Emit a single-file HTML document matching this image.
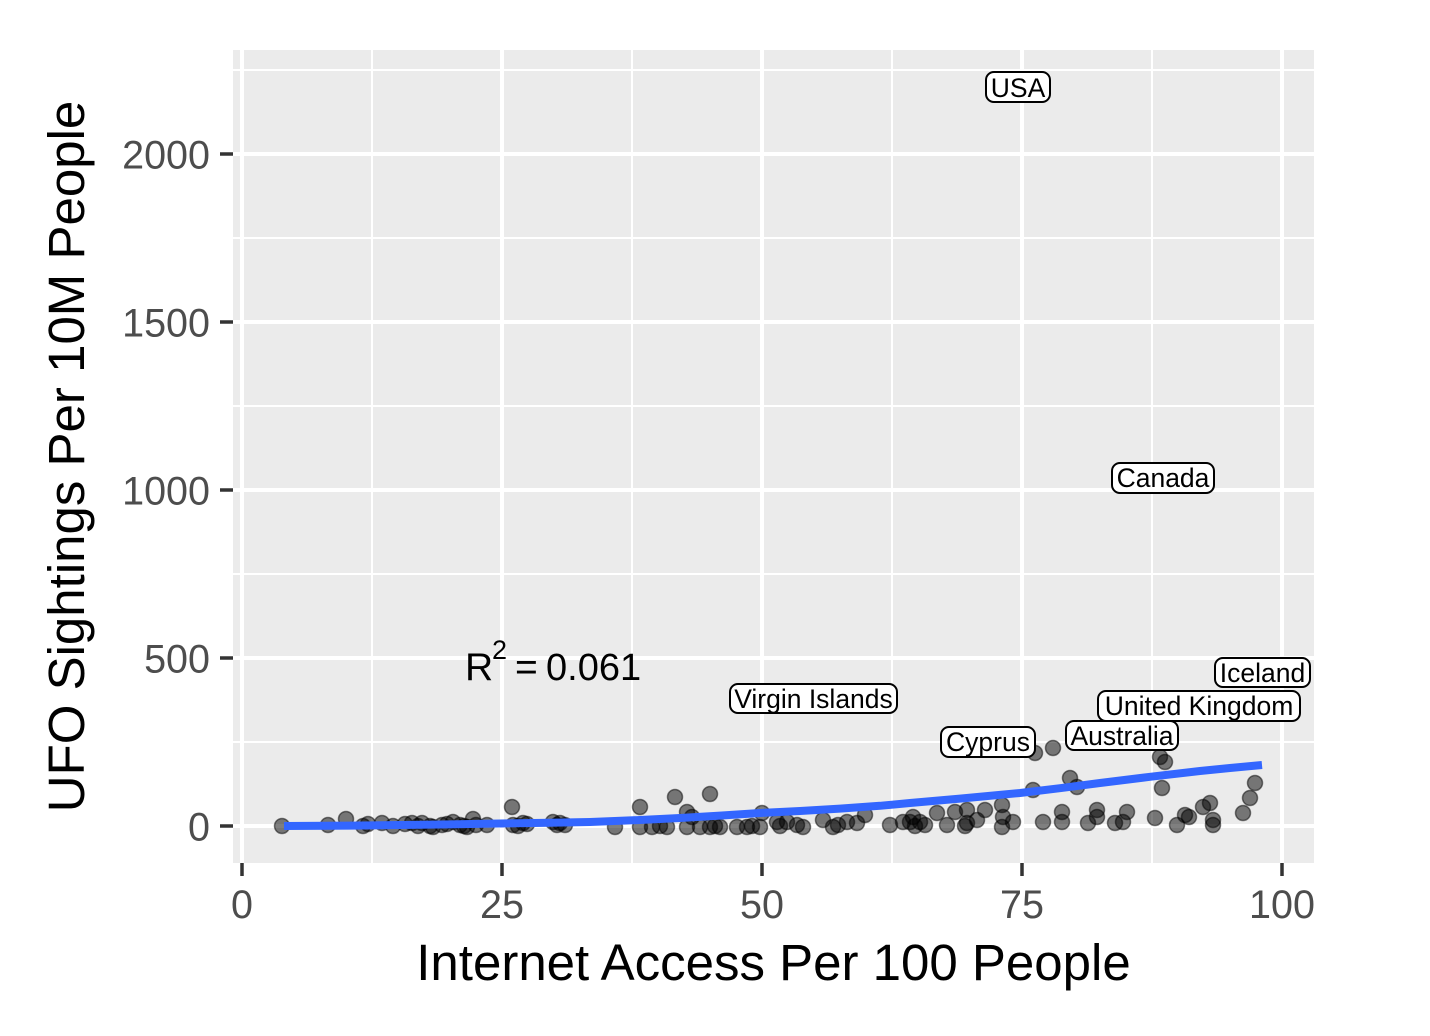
<!DOCTYPE html>
<html>
<head>
<meta charset="utf-8">
<style>
  html, body { margin: 0; padding: 0; background: #ffffff; }
  svg { display: block; }
  text { font-family: "Liberation Sans", Arial, sans-serif; }
</style>
</head>
<body>
<svg width="1430" height="1036" viewBox="0 0 1430 1036" xmlns="http://www.w3.org/2000/svg">
  <rect x="0" y="0" width="1430" height="1036" fill="#ffffff"/>
  <rect x="233" y="50" width="1081" height="813" fill="#EBEBEB"/>
  <g stroke="#ffffff" stroke-width="2" fill="none">
    <line x1="372" y1="50" x2="372" y2="863"/>
    <line x1="632" y1="50" x2="632" y2="863"/>
    <line x1="892" y1="50" x2="892" y2="863"/>
    <line x1="1152" y1="50" x2="1152" y2="863"/>
    <line x1="233" y1="742" x2="1314" y2="742"/>
    <line x1="233" y1="574" x2="1314" y2="574"/>
    <line x1="233" y1="406" x2="1314" y2="406"/>
    <line x1="233" y1="238" x2="1314" y2="238"/>
    <line x1="233" y1="70" x2="1314" y2="70"/>
  </g>
  <g stroke="#ffffff" stroke-width="4" fill="none">
    <line x1="242" y1="50" x2="242" y2="863"/>
    <line x1="502" y1="50" x2="502" y2="863"/>
    <line x1="762" y1="50" x2="762" y2="863"/>
    <line x1="1022" y1="50" x2="1022" y2="863"/>
    <line x1="1282" y1="50" x2="1282" y2="863"/>
    <line x1="233" y1="826" x2="1314" y2="826"/>
    <line x1="233" y1="658" x2="1314" y2="658"/>
    <line x1="233" y1="490" x2="1314" y2="490"/>
    <line x1="233" y1="322" x2="1314" y2="322"/>
    <line x1="233" y1="154" x2="1314" y2="154"/>
  </g>
  <g fill="#000000" fill-opacity="0.5" stroke="#000000" stroke-opacity="0.5" stroke-width="1.5">
    <circle cx="282" cy="826" r="7.5"/>
    <circle cx="328" cy="825" r="7.5"/>
    <circle cx="346" cy="819" r="7.5"/>
    <circle cx="363" cy="826" r="7.5"/>
    <circle cx="368" cy="824" r="7.5"/>
    <circle cx="382" cy="823" r="7.5"/>
    <circle cx="393" cy="826" r="7.5"/>
    <circle cx="405" cy="824" r="7.5"/>
    <circle cx="412" cy="823" r="7.5"/>
    <circle cx="418" cy="826" r="7.5"/>
    <circle cx="422" cy="823" r="7.5"/>
    <circle cx="430" cy="826" r="7.5"/>
    <circle cx="433" cy="827" r="7.5"/>
    <circle cx="442" cy="825" r="7.5"/>
    <circle cx="447" cy="824" r="7.5"/>
    <circle cx="453" cy="822" r="7.5"/>
    <circle cx="460" cy="825" r="7.5"/>
    <circle cx="464" cy="826" r="7.5"/>
    <circle cx="467" cy="827" r="7.5"/>
    <circle cx="473" cy="819" r="7.5"/>
    <circle cx="476" cy="825" r="7.5"/>
    <circle cx="487" cy="825" r="7.5"/>
    <circle cx="512" cy="807" r="7.5"/>
    <circle cx="513" cy="825" r="7.5"/>
    <circle cx="518" cy="826" r="7.5"/>
    <circle cx="523" cy="823" r="7.5"/>
    <circle cx="527" cy="824" r="7.5"/>
    <circle cx="553" cy="822" r="7.5"/>
    <circle cx="557" cy="825" r="7.5"/>
    <circle cx="560" cy="823" r="7.5"/>
    <circle cx="565" cy="825" r="7.5"/>
    <circle cx="615" cy="827" r="7.5"/>
    <circle cx="640" cy="807" r="7.5"/>
    <circle cx="640" cy="827" r="7.5"/>
    <circle cx="652" cy="827" r="7.5"/>
    <circle cx="660" cy="826" r="7.5"/>
    <circle cx="667" cy="827" r="7.5"/>
    <circle cx="675" cy="797" r="7.5"/>
    <circle cx="687" cy="812" r="7.5"/>
    <circle cx="692" cy="817" r="7.5"/>
    <circle cx="687" cy="827" r="7.5"/>
    <circle cx="700" cy="827" r="7.5"/>
    <circle cx="710" cy="794" r="7.5"/>
    <circle cx="710" cy="827" r="7.5"/>
    <circle cx="715" cy="826" r="7.5"/>
    <circle cx="720" cy="827" r="7.5"/>
    <circle cx="737" cy="827" r="7.5"/>
    <circle cx="747" cy="827" r="7.5"/>
    <circle cx="752" cy="826" r="7.5"/>
    <circle cx="762" cy="813" r="7.5"/>
    <circle cx="760" cy="827" r="7.5"/>
    <circle cx="777" cy="822" r="7.5"/>
    <circle cx="780" cy="826" r="7.5"/>
    <circle cx="787" cy="822" r="7.5"/>
    <circle cx="797" cy="825" r="7.5"/>
    <circle cx="803" cy="827" r="7.5"/>
    <circle cx="823" cy="820" r="7.5"/>
    <circle cx="833" cy="827" r="7.5"/>
    <circle cx="838" cy="825" r="7.5"/>
    <circle cx="847" cy="822" r="7.5"/>
    <circle cx="857" cy="823" r="7.5"/>
    <circle cx="865" cy="815" r="7.5"/>
    <circle cx="890" cy="825" r="7.5"/>
    <circle cx="903" cy="822" r="7.5"/>
    <circle cx="910" cy="822" r="7.5"/>
    <circle cx="913" cy="817" r="7.5"/>
    <circle cx="915" cy="826" r="7.5"/>
    <circle cx="920" cy="822" r="7.5"/>
    <circle cx="925" cy="825" r="7.5"/>
    <circle cx="937" cy="813" r="7.5"/>
    <circle cx="947" cy="825" r="7.5"/>
    <circle cx="955" cy="812" r="7.5"/>
    <circle cx="965" cy="826" r="7.5"/>
    <circle cx="967" cy="810" r="7.5"/>
    <circle cx="967" cy="823" r="7.5"/>
    <circle cx="977" cy="820" r="7.5"/>
    <circle cx="985" cy="810" r="7.5"/>
    <circle cx="1002" cy="805" r="7.5"/>
    <circle cx="1003" cy="817" r="7.5"/>
    <circle cx="1002" cy="827" r="7.5"/>
    <circle cx="1013" cy="822" r="7.5"/>
    <circle cx="1035" cy="753" r="7.5"/>
    <circle cx="1053" cy="748" r="7.5"/>
    <circle cx="1033" cy="790" r="7.5"/>
    <circle cx="1043" cy="822" r="7.5"/>
    <circle cx="1062" cy="812" r="7.5"/>
    <circle cx="1062" cy="822" r="7.5"/>
    <circle cx="1070" cy="778" r="7.5"/>
    <circle cx="1077" cy="787" r="7.5"/>
    <circle cx="1088" cy="823" r="7.5"/>
    <circle cx="1097" cy="810" r="7.5"/>
    <circle cx="1097" cy="817" r="7.5"/>
    <circle cx="1115" cy="823" r="7.5"/>
    <circle cx="1127" cy="812" r="7.5"/>
    <circle cx="1123" cy="822" r="7.5"/>
    <circle cx="1155" cy="818" r="7.5"/>
    <circle cx="1160" cy="757" r="7.5"/>
    <circle cx="1165" cy="762" r="7.5"/>
    <circle cx="1162" cy="788" r="7.5"/>
    <circle cx="1177" cy="825" r="7.5"/>
    <circle cx="1185" cy="815" r="7.5"/>
    <circle cx="1189" cy="817" r="7.5"/>
    <circle cx="1203" cy="807" r="7.5"/>
    <circle cx="1210" cy="803" r="7.5"/>
    <circle cx="1213" cy="820" r="7.5"/>
    <circle cx="1213" cy="825" r="7.5"/>
    <circle cx="1243" cy="813" r="7.5"/>
    <circle cx="1250" cy="798" r="7.5"/>
    <circle cx="1255" cy="783" r="7.5"/>
  </g>
  <polyline fill="none" stroke="#3366FF" stroke-width="8" stroke-linejoin="round" stroke-linecap="butt"
    points="284,826 350,825.6 400,825 450,824.4 500,823.5 550,822.8 590,822 640,820 680,818 720,815.6 760,813 800,811 840,808.6 880,805.8 910,803 960,798.6 1020,793 1060,788.2 1100,783 1150,776.8 1200,771 1230,768 1262,765"/>
  <g font-size="26.5" fill="#000000" text-anchor="middle">
    <rect x="986" y="72" width="64" height="30" rx="8" ry="8" fill="#ffffff" stroke="#000000" stroke-width="2"/>
    <text x="1018" y="97">USA</text>
    <rect x="1112" y="463" width="102" height="30" rx="8" ry="8" fill="#ffffff" stroke="#000000" stroke-width="2"/>
    <text x="1163" y="487">Canada</text>
    <rect x="1215" y="658" width="95" height="29" rx="8" ry="8" fill="#ffffff" stroke="#000000" stroke-width="2"/>
    <text x="1262.5" y="682">Iceland</text>
    <rect x="1098" y="691" width="202" height="30" rx="8" ry="8" fill="#ffffff" stroke="#000000" stroke-width="2"/>
    <text x="1199" y="715">United Kingdom</text>
    <rect x="1066" y="721" width="112" height="29" rx="8" ry="8" fill="#ffffff" stroke="#000000" stroke-width="2"/>
    <text x="1122" y="745">Australia</text>
    <rect x="941" y="727" width="94" height="30" rx="8" ry="8" fill="#ffffff" stroke="#000000" stroke-width="2"/>
    <text x="988" y="751">Cyprus</text>
    <rect x="730" y="684" width="167" height="29" rx="8" ry="8" fill="#ffffff" stroke="#000000" stroke-width="2"/>
    <text x="813.5" y="708">Virgin Islands</text>
  </g>
  <g fill="#000000">
    <text x="465" y="680" font-size="39">R</text>
    <text x="492" y="659" font-size="27">2</text>
    <text x="515" y="680" font-size="39">=</text>
    <text x="546" y="680" font-size="38">0.061</text>
  </g>
  <g stroke="#333333" stroke-width="3.5">
    <line x1="220" y1="826" x2="233" y2="826"/>
    <line x1="220" y1="658" x2="233" y2="658"/>
    <line x1="220" y1="490" x2="233" y2="490"/>
    <line x1="220" y1="322" x2="233" y2="322"/>
    <line x1="220" y1="154" x2="233" y2="154"/>
    <line x1="242" y1="863" x2="242" y2="876"/>
    <line x1="502" y1="863" x2="502" y2="876"/>
    <line x1="762" y1="863" x2="762" y2="876"/>
    <line x1="1022" y1="863" x2="1022" y2="876"/>
    <line x1="1282" y1="863" x2="1282" y2="876"/>
  </g>
  <g font-size="39.5" fill="#4D4D4D">
    <g text-anchor="end">
      <text x="210" y="840.5">0</text>
      <text x="210" y="672.5">500</text>
      <text x="210" y="504.5">1000</text>
      <text x="210" y="336.5">1500</text>
      <text x="210" y="168.5">2000</text>
    </g>
    <g text-anchor="middle">
      <text x="242" y="918">0</text>
      <text x="502" y="918">25</text>
      <text x="762" y="918">50</text>
      <text x="1022" y="918">75</text>
      <text x="1282" y="918">100</text>
    </g>
  </g>
  <text x="773.5" y="980" font-size="51" fill="#000000" text-anchor="middle">Internet Access Per 100 People</text>
  <text transform="translate(84,456.5) rotate(-90)" x="0" y="0" font-size="51" fill="#000000" text-anchor="middle">UFO Sightings Per 10M People</text>
</svg>
</body>
</html>
